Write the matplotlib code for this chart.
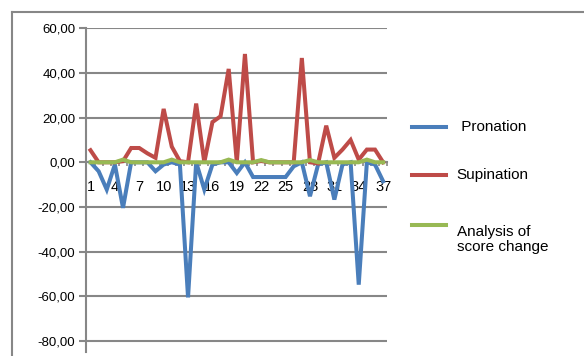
import matplotlib
matplotlib.use("Agg")
import matplotlib.pyplot as plt
from matplotlib.lines import Line2D
import numpy as np

plt.rcParams['font.family'] = ['Liberation Sans', 'DejaVu Sans']

# measurement index 1..37
idx = np.arange(1, 38)

pronation = [0, -4, -12.2, -1, -20.4, 0, 0, 0, -4, -1, 0, -1, -60.5, 0, -12.2, -1,
             0, 0, -4.8, 0, -6.6, -6.6, -6.6, -6.6, -6.6, -1.8, 0, -15.2, -1, 0,
             -16.7, -1, 0, -54.8, 0, -1, -8.5]
supination = [5.4, 0, 0, 0, 0.5, 6.4, 6.4, 4, 2, 23.9, 7, 0.5, 0, 26.3, 0, 18,
              20.6, 41.8, 0, 48.5, 0, 0.6, 0, 0, 0, 0, 46.7, 0, -0.5, 16.4,
              2, 5.7, 10, 1.2, 5.7, 5.7, 0]
score_change = [0, 0, 0, 0, 1.2, 0, 0, 0, 0, 0, 1.2, 0, 0, 0, 0, 0,
                0, 1.2, 0, 0, 0, 1, 0, 0, 0, 0, 0, 1, 0, 0,
                0, 0, 0, 0, 1.2, 0, 0]

series_names = [' Pronation', 'Supination', 'Analysis of\nscore change']
colors = ['#4a7ebb', '#be4b48', '#98b954']
y_ticks = [60, 40, 20, 0, -20, -40, -60, -80]
x_labels = [1, 4, 7, 10, 13, 16, 19, 22, 25, 28, 31, 34, 37]

grey = '#878787'

fig = plt.figure(figsize=(5.84, 3.56), dpi=100)
ax = fig.add_axes([0.148, 0.0109, 0.515, 0.9096])

for vals, c in zip([pronation, supination, score_change], colors):
    ax.plot(idx, vals, color=c, lw=2.9, solid_joinstyle='miter', zorder=3)

ax.set_xlim(0.5, 37.5)
ax.set_ylim(-85, 60)

# value axis
ax.set_yticks(y_ticks)
ax.set_yticklabels(['%d,00' % v for v in y_ticks])
ax.yaxis.grid(True, color=grey, lw=1.5)
ax.tick_params(axis='y', length=5, width=1.5, color=grey, labelsize=9.5, pad=3)

# category axis crossing at zero
ax.spines['bottom'].set_position(('data', 0))
ax.spines['bottom'].set_color(grey)
ax.spines['bottom'].set_linewidth(1.5)
ax.spines['left'].set_color(grey)
ax.spines['left'].set_linewidth(1.5)
ax.spines['top'].set_visible(False)
ax.spines['right'].set_visible(False)
ax.set_xticks(np.arange(0.5, 38, 1))
ax.set_xticklabels([])
ax.tick_params(axis='x', which='major', length=3, width=1.2, color=grey)
ax.set_xticks(x_labels, minor=True)
ax.set_xticklabels([str(v) for v in x_labels], minor=True)
ax.tick_params(axis='x', which='minor', length=0, labelsize=10.5, pad=13)
ax.set_axisbelow(True)

# legend drawn beside the plot
leg_y = [0.642, 0.508, 0.368]
for name, c, y in zip(series_names, colors, leg_y):
    fig.add_artist(Line2D([0.706, 0.763], [y, y], color=c, lw=2.9,
                          transform=fig.transFigure))
    fig.text(0.782, y, name, fontsize=11, va='top' if '\n' in name else 'center',
             ha='left', linespacing=1.05,
             transform=fig.transFigure)

# chart frame
fig.add_artist(Line2D([0.021, 1.0], [0.966, 0.966], color=grey, lw=1.5,
                      transform=fig.transFigure))
fig.add_artist(Line2D([0.021, 0.021], [0.0, 0.966], color=grey, lw=1.5,
                      transform=fig.transFigure))

fig.savefig('out.png', dpi=100)
